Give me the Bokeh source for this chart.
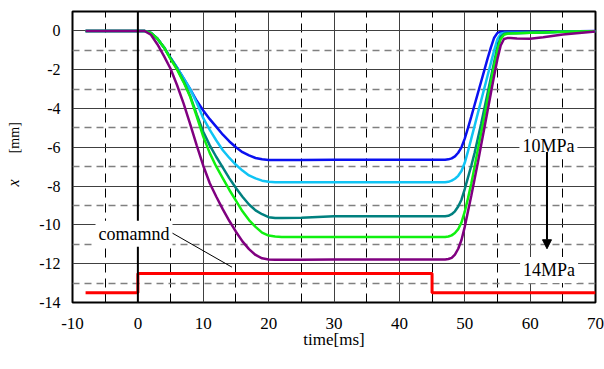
from bokeh.plotting import figure
from bokeh.models import FixedTicker, Span, Label, Arrow, NormalHead, Range1d, LinearAxis
from bokeh.embed import file_html
from bokeh.resources import INLINE

# ---------------- data ----------------
time_ms = [-8, 0, 1, 2, 3, 4, 5, 6, 7, 8, 9, 10,
           11, 12, 13, 14, 15, 16, 17, 18, 19, 20, 21, 22,
           25, 30, 35, 40, 45, 47, 47.5, 48, 48.5, 49, 49.5, 50,
           50.5, 51, 51.5, 52, 52.5, 53, 53.5, 54, 54.5, 55, 55.5, 56,
           56.5, 57, 58, 60, 62, 65, 70]

x_10MPa = [0, 0, 0, -0.1, -0.4, -0.85, -1.4, -1.9, -2.45, -3.0, -3.6, -4.1,
           -4.55, -4.95, -5.35, -5.7, -6.0, -6.25, -6.42, -6.55, -6.62, -6.65, -6.66, -6.66,
           -6.65, -6.64, -6.64, -6.64, -6.64, -6.64, -6.62, -6.57, -6.47, -6.28, -6.0, -5.55,
           -5.0, -4.42, -3.82, -3.22, -2.62, -2.02, -1.42, -0.85, -0.35, -0.1, -0.05, -0.05,
           -0.05, -0.05, -0.05, -0.05, -0.04, -0.03, 0.0]

x_11MPa = [0, 0, 0, -0.1, -0.4, -0.85, -1.4, -1.9, -2.45, -3.0, -3.7, -4.5,
           -5.1, -5.65, -6.15, -6.55, -6.9, -7.2, -7.45, -7.6, -7.72, -7.78, -7.8, -7.8,
           -7.8, -7.8, -7.8, -7.8, -7.8, -7.8, -7.78, -7.72, -7.62, -7.47, -7.22, -6.8,
           -6.2, -5.55, -4.9, -4.25, -3.6, -2.95, -2.3, -1.65, -1.0, -0.42, -0.15, -0.1,
           -0.1, -0.1, -0.1, -0.1, -0.08, -0.05, -0.02]

x_12MPa = [0, 0, 0, -0.1, -0.4, -0.85, -1.4, -1.95, -2.6, -3.35, -4.3, -5.2,
           -5.9, -6.5, -7.05, -7.6, -8.1, -8.55, -8.95, -9.25, -9.45, -9.6, -9.65, -9.65,
           -9.63, -9.56, -9.55, -9.55, -9.55, -9.55, -9.53, -9.45, -9.3, -9.05, -8.7, -8.15,
           -7.55, -6.95, -6.3, -5.55, -4.8, -4.0, -3.2, -2.4, -1.6, -0.85, -0.3, -0.15,
           -0.12, -0.12, -0.12, -0.1, -0.08, -0.05, -0.02]

x_13MPa = [0, 0, 0, -0.1, -0.4, -0.85, -1.45, -2.0, -2.65, -3.4, -4.4, -5.45,
           -6.3, -7.0, -7.6, -8.2, -8.75, -9.3, -9.75, -10.1, -10.4, -10.55, -10.6, -10.62,
           -10.62, -10.62, -10.62, -10.62, -10.62, -10.62, -10.6, -10.54, -10.42, -10.22, -9.87, -9.32,
           -8.62, -7.87, -7.02, -6.12, -5.27, -4.42, -3.52, -2.62, -1.77, -0.97, -0.42, -0.2,
           -0.15, -0.13, -0.12, -0.1, -0.08, -0.05, -0.02]

x_14MPa = [0, 0, 0, -0.2, -0.7, -1.3, -1.95, -2.8, -3.75, -4.8, -5.9, -6.95,
           -7.85, -8.55, -9.2, -9.8, -10.35, -10.85, -11.25, -11.55, -11.72, -11.78, -11.8, -11.8,
           -11.8, -11.78, -11.78, -11.78, -11.78, -11.78, -11.76, -11.7, -11.53, -11.23, -10.78, -10.1,
           -9.3, -8.5, -7.65, -6.8, -5.9, -5.0, -4.1, -3.2, -2.3, -1.45, -0.75, -0.42,
           -0.37, -0.37, -0.39, -0.4, -0.33, -0.19, -0.03]

cmd_t = [-8, 0, 0, 45, 45, 70]
cmd_x = [-13.5, -13.5, -12.5, -12.5, -13.5, -13.5]

x_ticks = [-10, 0, 10, 20, 30, 40, 50, 60, 70]
x_tick_labels = ["-10", "0", "10", "20", "30", "40", "50", "60", "70"]
x_minor = [-5, 5, 15, 25, 35, 45, 55, 65]
y_ticks = [0, -2, -4, -6, -8, -10, -12, -14]
y_tick_labels = ["0", "-2", "-4", "-6", "-8", "-10", "-12", "-14"]
y_minor = [-1, -3, -5, -7, -9, -11, -13]

series_colors = ["#0a10f0", "#10c4f4", "#00807f", "#10f010", "#800080"]
series = [x_10MPa, x_11MPa, x_12MPa, x_13MPa, x_14MPa]

SERIF = "'Liberation Serif', 'Times New Roman', serif"
NBSP = "\u00a0"

# ---------------- figure ----------------
p = figure(width=604, height=369, x_range=Range1d(-10, 70), y_range=Range1d(-14, 1),
           output_backend="svg", toolbar_location=None,
           min_border_left=72, min_border_right=9, min_border_top=11, min_border_bottom=67)
p.background_fill_color = "white"
p.border_fill_color = "white"
p.outline_line_color = "black"
p.outline_line_width = 2

ax_x = p.xaxis[0]
ax_y = p.yaxis[0]
ax_x.ticker = FixedTicker(ticks=x_ticks, minor_ticks=x_minor)
ax_y.ticker = FixedTicker(ticks=y_ticks, minor_ticks=y_minor)
ax_x.major_label_overrides = {v: s for v, s in zip(x_ticks, x_tick_labels)}
ax_y.major_label_overrides = {v: s for v, s in zip(y_ticks, y_tick_labels)}

for ax in (ax_x, ax_y):
    ax.axis_line_color = None
    ax.major_tick_line_color = None
    ax.minor_tick_line_color = None
    ax.major_tick_out = 0
    ax.minor_tick_out = 0
    ax.major_label_text_font = SERIF
    ax.major_label_text_color = "black"
ax_x.major_label_text_font_size = "17px"
ax_y.major_label_text_font_size = "16px"
ax_x.major_label_standoff = 15
ax_y.major_label_standoff = 12

ax_x.axis_label = "time[ms]"
ax_x.axis_label_text_font = SERIF
ax_x.axis_label_text_font_size = "17px"
ax_x.axis_label_text_font_style = "normal"
ax_x.axis_label_text_color = "black"
ax_x.axis_label_standoff = -2

# y label "x [mm]": "[mm]" on the main y axis, italic "x" on a bare outer axis
ax_y.axis_label = NBSP * 11 + "[mm]"
ax_y.axis_label_text_font = SERIF
ax_y.axis_label_text_font_size = "14px"
ax_y.axis_label_text_font_style = "normal"
ax_y.axis_label_text_color = "black"
ax_y.axis_label_standoff = 14

ax_lab = LinearAxis(ticker=FixedTicker(ticks=[]), axis_label="x" + NBSP * 13,
                    axis_line_color=None, major_tick_line_color=None, minor_tick_line_color=None,
                    major_tick_out=0, minor_tick_out=0, major_tick_in=0, minor_tick_in=0,
                    major_label_standoff=0, axis_label_standoff=-17,
                    axis_label_text_font=SERIF, axis_label_text_font_size="16px",
                    axis_label_text_font_style="italic", axis_label_text_color="black")
p.add_layout(ax_lab, "left")

p.xgrid.grid_line_color = "#404040"
p.xgrid.grid_line_width = 1
p.xgrid.minor_grid_line_color = "black"
p.xgrid.minor_grid_line_dash = "9 6"
p.xgrid.minor_grid_line_width = 1

p.ygrid.grid_line_color = "#404040"
p.ygrid.grid_line_width = 1
p.ygrid.minor_grid_line_color = "#808080"
p.ygrid.minor_grid_line_dash = "7 5"
p.ygrid.minor_grid_line_width = 1.5

p.add_layout(Span(location=0, dimension="height", line_color="black", line_width=2))

# ---------------- data lines ----------------
for xs, c in zip(series, series_colors):
    p.line(time_ms, xs, line_color=c, line_width=2.5)
p.line(cmd_t, cmd_x, line_color="#ff0000", line_width=3)

# ---------------- annotations ----------------
p.line([5.0, 14.4], [-10.37, -12.18], line_color="black", line_width=1)
p.add_layout(Label(x=-6.48, y=-10.45, text="comamnd", text_font=SERIF, text_font_size="18px",
                   text_baseline="alphabetic", text_align="left", text_color="black",
                   background_fill_color="white", padding=3))
p.add_layout(Label(x=62.8, y=-5.94, text="10MPa", text_font=SERIF, text_font_size="18px",
                   text_baseline="alphabetic", text_align="center", text_color="black",
                   background_fill_color="white", padding=3))
p.add_layout(Label(x=62.9, y=-12.33, text="14MPa", text_font=SERIF, text_font_size="18px",
                   text_baseline="alphabetic", text_align="center", text_color="black",
                   background_fill_color="white", padding=3))
p.add_layout(Arrow(end=NormalHead(size=9, fill_color="black", line_color="black"),
                   x_start=62.58, y_start=-6.24, x_end=62.58, y_end=-11.23,
                   line_color="black", line_width=2))

open("out.html", "w").write(file_html(p, INLINE))
